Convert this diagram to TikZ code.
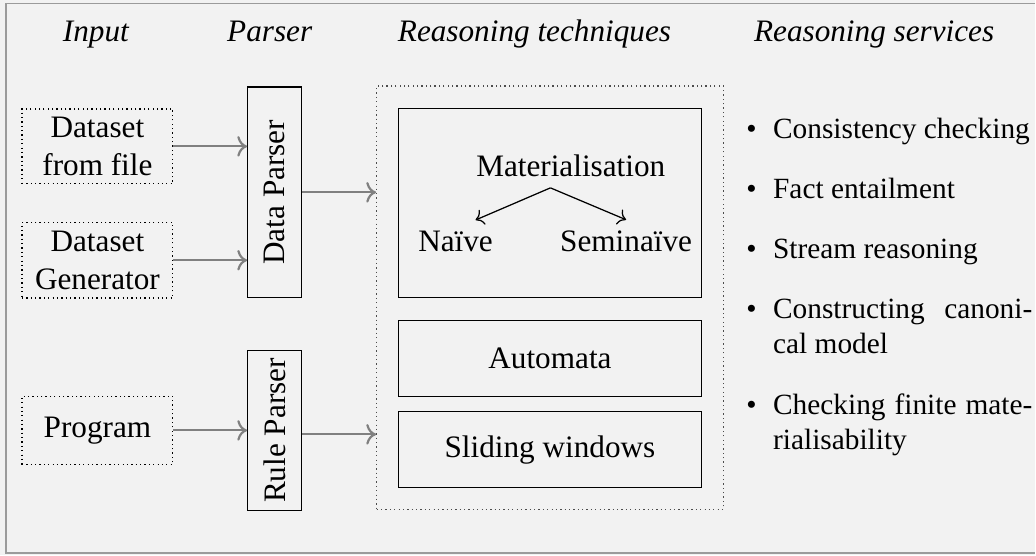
\documentclass[tikz,border=0pt]{standalone}
\usepackage{fontspec}
\setmainfont{Liberation Serif}
\usepackage{xcolor}
\definecolor{fondo}{RGB}{242,242,242}
\definecolor{marco}{RGB}{155,155,155}
\definecolor{flecha}{RGB}{128,128,128}
\usepackage{tikz}
\usetikzlibrary{positioning, arrows.meta}
\newcommand{\punto}{\leavevmode\llap{\textbullet\hspace{5.3pt}}}

\begin{document}
\begin{tikzpicture}[x=0.32pt, y=-0.32pt,
        caja/.style={draw, minimum width=97pt, inner sep=0pt},
        entrada/.style={draw, densely dotted, align=center, minimum width=48.3pt, inner sep=0pt},
        parser/.style={draw, rotate=90, minimum height=17.3pt, inner sep=0pt},
        titulo/.style={anchor=base, font=\itshape},
        gris/.style={->, flecha, line width=0.7pt},
        servicio/.style={anchor=base west, text width=83pt, align=justify, inner sep=0pt, font=\fontsize{9.4}{11.2}\selectfont}]
        % Fondo y marco
        \fill[fondo] (0,0) rectangle (1036,556);
        \draw[marco, line width=0.64pt] (1036,3.5) -- (6,3.5) -- (6,554) -- (1036,554);
        % Titulos de las columnas
        \node[titulo] (tinput) at (96,42) {Input};
        \node[titulo] (tparser) at (270,42) {Parser};
        \node[titulo] (ttecnicas) at (535,42) {Reasoning techniques};
        \node[titulo] (tservicios) at (875,42) {Reasoning services};
        % Entradas
        \node[entrada, minimum height=24pt] (fichero) at (97.5,146.5) {Dataset\\from file};
        \node[entrada, minimum height=24.2pt] (generador) at (97.5,260.5) {Dataset\\Generator};
        \node[entrada, minimum height=21.9pt] (programa) at (97.5,430.8) {Program};
        % Parsers
        \node[parser, minimum width=67.5pt] (dparser) at (275,192.5) {Data Parser};
        \node[parser, minimum width=51.2pt] (rparser) at (275,431) {Rule Parser};
        % Tecnicas de razonamiento
        \node[draw=black!70, densely dotted, minimum width=111pt, minimum height=135.7pt, inner sep=0pt] (tecnicas) at (550.5,298) {};
        \node[caja, minimum height=60.5pt] (materia) at (550.5,203.5) {};
        \node[anchor=base] (mat) at (571.3,176.7) {Materialisation};
        \node[anchor=base] (naive) at (456,251.7) {Naïve};
        \node[anchor=base] (semi) at (626.7,251.7) {Seminaïve};
        \draw[->] ([xshift=-6.5pt]mat.south) -- ([xshift=6.4pt]naive.north);
        \draw[->] ([xshift=-6.5pt]mat.south) -- (semi.north);
        \node[caja, minimum height=24.3pt] (automata) at (550.5,359) {Automata};
        \node[caja, minimum height=24.3pt] (ventanas) at (550.5,450) {Sliding windows};
        % Flechas
        \draw[gris] (fichero.east) -- (fichero.east -| dparser.north);
        \draw[gris] (generador.east) -- (generador.east -| dparser.north);
        \draw[gris] (programa.east) -- (programa.east -| rparser.north);
        \draw[gris] (dparser.south) -- (dparser.south -| tecnicas.west);
        \draw[gris] ([yshift=-1.2pt]rparser.south) -- ([yshift=-1.2pt]rparser.south -| tecnicas.west);
        % Servicios
        \node[servicio] (s1) at (773.3,139) {\punto Consistency checking};
        \node[servicio] (s2) at (773.3,199) {\punto Fact entailment};
        \node[servicio] (s3) at (773.3,259) {\punto Stream reasoning};
        \node[servicio] (s4) at (773.3,319) {\punto Constructing canoni-\linebreak cal model};
        \node[servicio] (s5) at (773.3,415) {\punto Checking finite mate-\linebreak rialisability};
    \end{tikzpicture}
\end{document}
